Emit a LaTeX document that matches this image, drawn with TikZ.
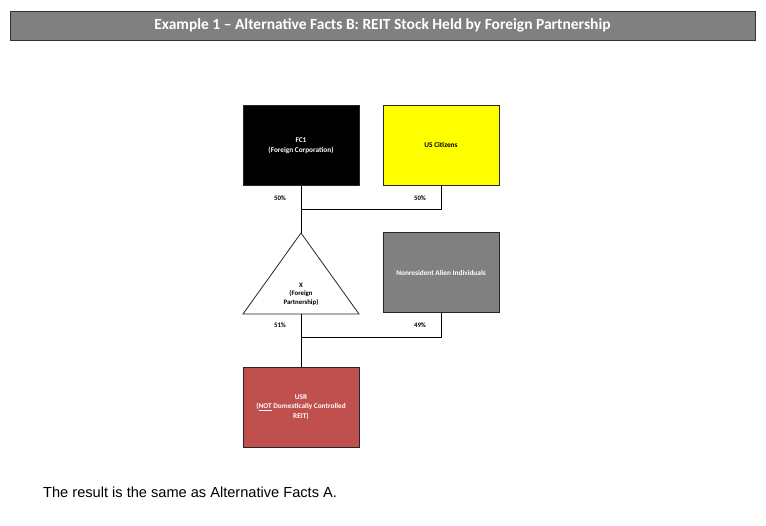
\documentclass[tikz,border=0pt]{standalone}
\usepackage{fontspec}
\setmainfont{Carlito}
\newfontfamily\arialf{Liberation Sans}
\definecolor{bargray}{RGB}{128,128,128}
\definecolor{naigray}{RGB}{128,128,128}
\definecolor{usrred}{RGB}{192,80,77}
\definecolor{usyellow}{RGB}{255,255,0}
\newcommand{\myul}[1]{\setbox0\hbox{#1}\rlap{\rule[-1.2pt]{\wd0}{0.45pt}}\box0\relax}
\begin{document}
\begin{tikzpicture}[x=1pt,y=-1pt,
  box/.style={draw=black!85,line width=0.8pt,minimum width=116pt,minimum height=80pt,inner sep=0pt,align=center,font=\bfseries\fontsize{7.3}{9.5}\selectfont},
  pct/.style={font=\bfseries\fontsize{6.8}{8}\selectfont,inner sep=0pt},
  conn/.style={draw=black,line width=0.8pt}]
\useasboundingbox (0,0) rectangle (766,525);
\node[draw=black!80,fill=bargray,line width=0.8pt,minimum width=745pt,minimum height=29pt,inner sep=0pt,text=white,font=\bfseries\fontsize{15.5}{17}\selectfont] (title) at (382.5,25.5) {Example 1 -- Alternative Facts B: REIT Stock Held by Foreign Partnership};
\node[box,fill=black,text=white] (fc1) at (301,145.5) {FC1\\(Foreign Corporation)};
\node[box,fill=usyellow,text=black] (us) at (441,145) {US Citizens};
\node[box,fill=naigray,text=white] (nai) at (441,272.5) {Nonresident Alien Individuals};
\node[box,fill=usrred,text=white] (usr) at (301,407) {USR\\(\myul{NOT} Domestically Controlled\\REIT)};
\coordinate (tA) at (301,233);
\coordinate (tL) at (243,314);
\coordinate (tR) at (359,314);
\coordinate (tB) at (301,314);
\draw[fill=white,draw=black!85,line width=0.8pt] (tA) -- (tL) -- (tR) -- cycle;
\node[align=center,inner sep=0pt,font=\bfseries\fontsize{6.8}{8.5}\selectfont] (x) at (301,294) {X\\(Foreign\\Partnership)};
\coordinate (j1) at (301,209);
\coordinate (j2) at (301,337);
\draw[conn] (fc1.south) -- (tA);
\draw[conn] (us.south) |- (j1);
\draw[conn] (tB) -- (usr.north);
\draw[conn] (nai.south) |- (j2);
\node[pct] (p1) at (280,198) {50\%};
\node[pct] (p2) at (420,198) {50\%};
\node[pct] (p3) at (280,325) {51\%};
\node[pct] (p4) at (420,325) {49\%};
\node[anchor=base west,inner sep=0pt,font=\arialf\fontsize{14.6}{17}\selectfont] (res) at (43,497) {The result is the same as Alternative Facts A.};
\end{tikzpicture}
\end{document}
